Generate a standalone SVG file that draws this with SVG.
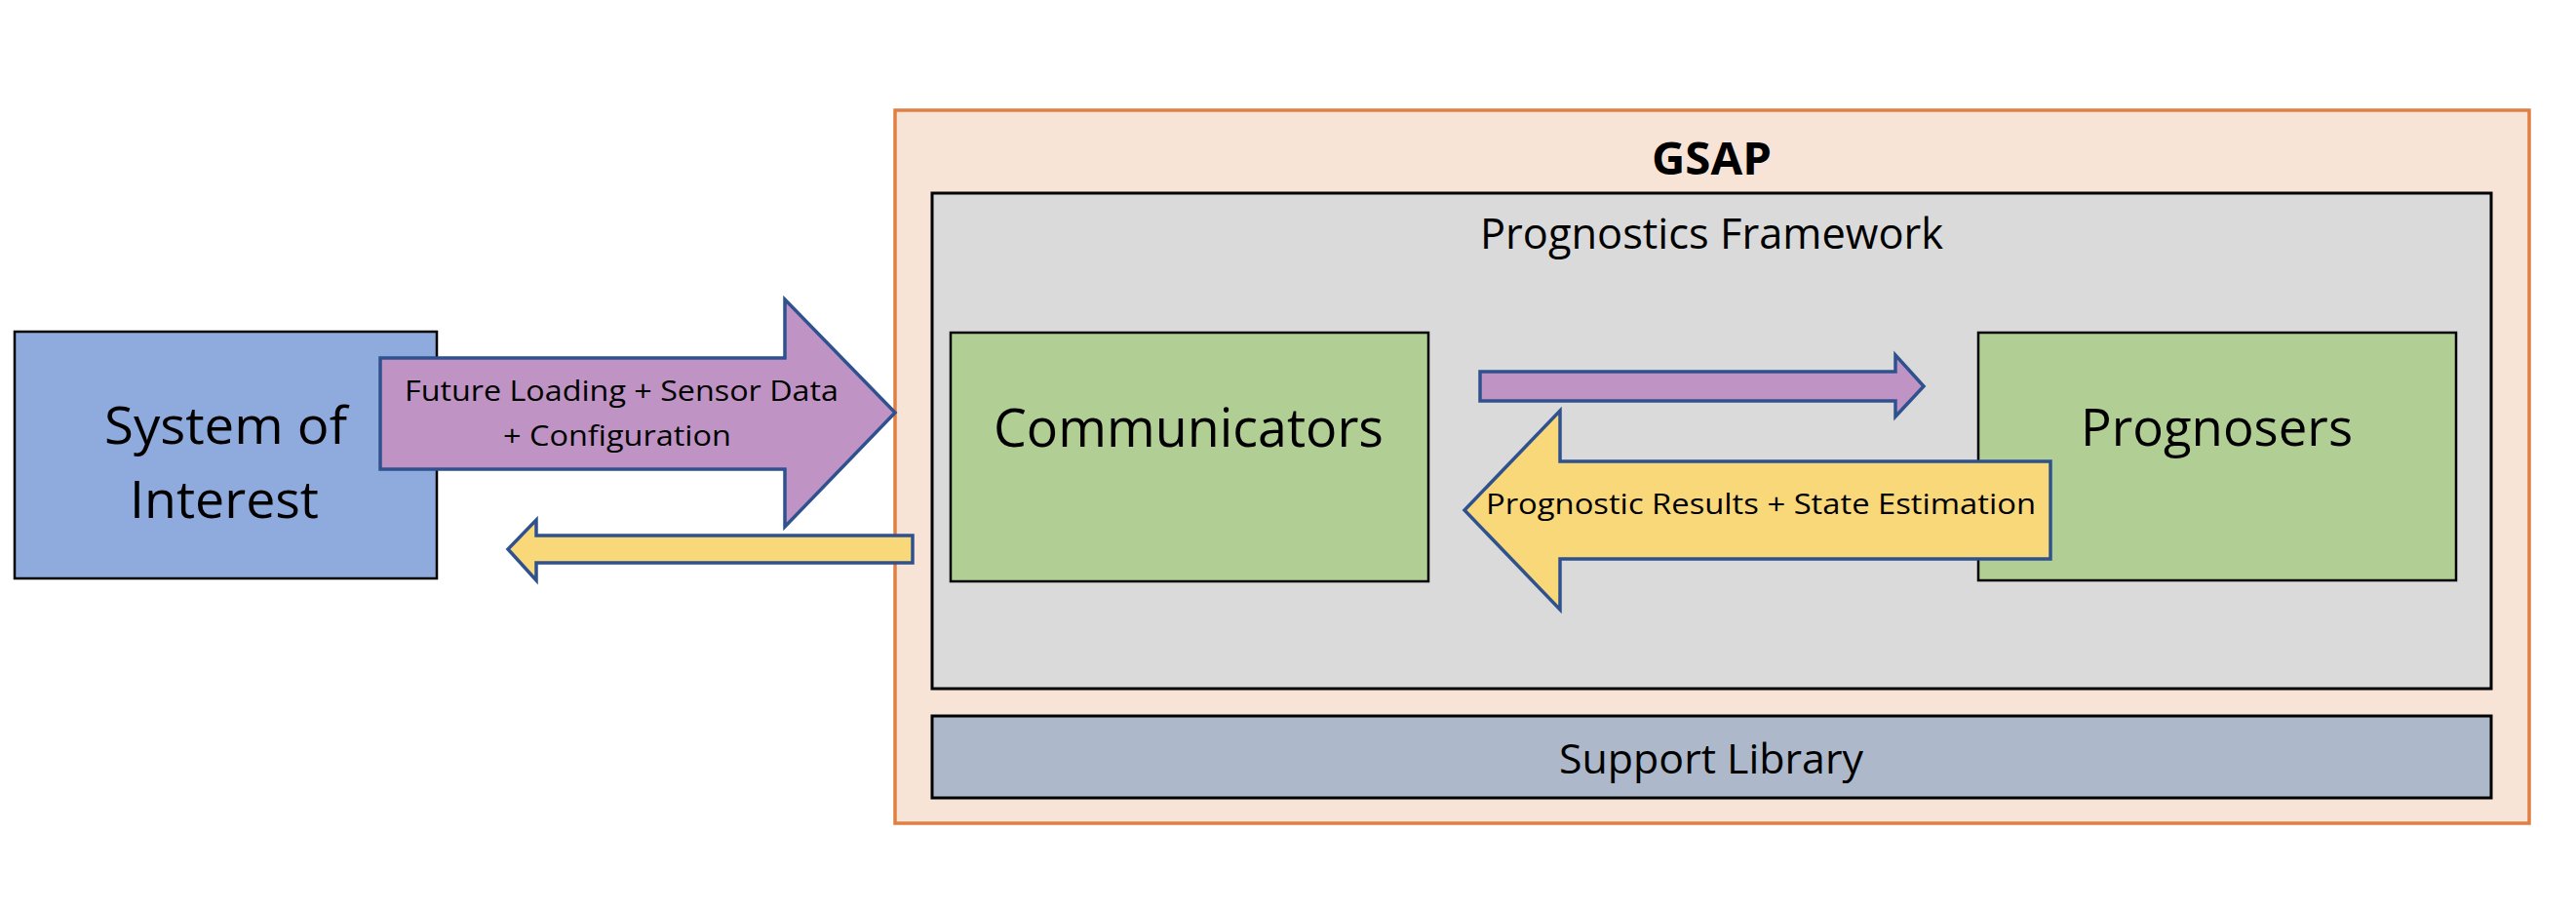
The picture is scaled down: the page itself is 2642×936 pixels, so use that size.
<svg xmlns="http://www.w3.org/2000/svg" width="2642" height="936" viewBox="0 0 2642 936">
<style>
text{font-family:"Open Sans","Noto Sans","Liberation Sans",sans-serif;fill:#000}
.box{stroke:#000;stroke-width:3}
.arrow{stroke:#2F528F;stroke-width:3.5;stroke-linejoin:miter}
.purple{fill:#C093C5}
.yellow{fill:#F9D87A}
</style>
<rect width="2642" height="936" fill="#fff"/>
<g id="gsap">
<rect x="918" y="113" width="1676" height="731" fill="#F8E4D7" stroke="#E07F43" stroke-width="3.5"/>
<text x="1694" y="179" font-size="47" font-weight="bold" textLength="123" lengthAdjust="spacingAndGlyphs">GSAP</text>
</g>
<g id="framework">
<rect class="box" x="956" y="198" width="1599" height="508" fill="#DADADA"/>
<text x="1518" y="255" font-size="43" textLength="475" lengthAdjust="spacingAndGlyphs">Prognostics Framework</text>
</g>
<g id="support">
<rect class="box" x="956" y="734" width="1599" height="84" fill="#ADB9CA"/>
<text x="1599" y="793" font-size="42" textLength="312" lengthAdjust="spacingAndGlyphs">Support Library</text>
</g>
<g id="system">
<rect x="15" y="340" width="433" height="253" fill="#8FAADC" stroke="#000" stroke-width="2.5"/>
<text x="107" y="455" font-size="53" textLength="249" lengthAdjust="spacingAndGlyphs">System of</text>
<text x="133" y="531" font-size="53" textLength="194" lengthAdjust="spacingAndGlyphs">Interest</text>
</g>
<g id="communicators">
<rect x="975" y="341" width="490" height="255" fill="#B1CF95" stroke="#000" stroke-width="2.5"/>
<text x="1019" y="458" font-size="54" textLength="400" lengthAdjust="spacingAndGlyphs">Communicators</text>
</g>
<g id="prognosers">
<rect x="2029" y="341" width="490" height="254" fill="#B1CF95" stroke="#000" stroke-width="2.5"/>
<text x="2134" y="457" font-size="53" textLength="279" lengthAdjust="spacingAndGlyphs">Prognosers</text>
</g>
<g id="connectors">
<path class="arrow purple" d="M390,367 L805,367 L805,307 L918,423 L805,540 L805,481 L390,481 Z"/>
<text x="415" y="411" font-size="29" textLength="445" lengthAdjust="spacingAndGlyphs">Future Loading + Sensor Data</text>
<text x="516" y="457" font-size="29" textLength="234" lengthAdjust="spacingAndGlyphs">+ Configuration</text>
<path class="arrow yellow" d="M936,549 L550,549 L550,533 L521,563 L550,595 L550,577 L936,577 Z"/>
<path class="arrow purple" d="M1518,381 L1944,381 L1944,364 L1973,396 L1944,427 L1944,411 L1518,411 Z"/>
<path class="arrow yellow" d="M2103,473 L1600,473 L1600,421 L1502,523 L1600,625 L1600,573 L2103,573 Z"/>
<text x="1524" y="527" font-size="30" textLength="564" lengthAdjust="spacingAndGlyphs">Prognostic Results + State Estimation</text>
</g>
</svg>
